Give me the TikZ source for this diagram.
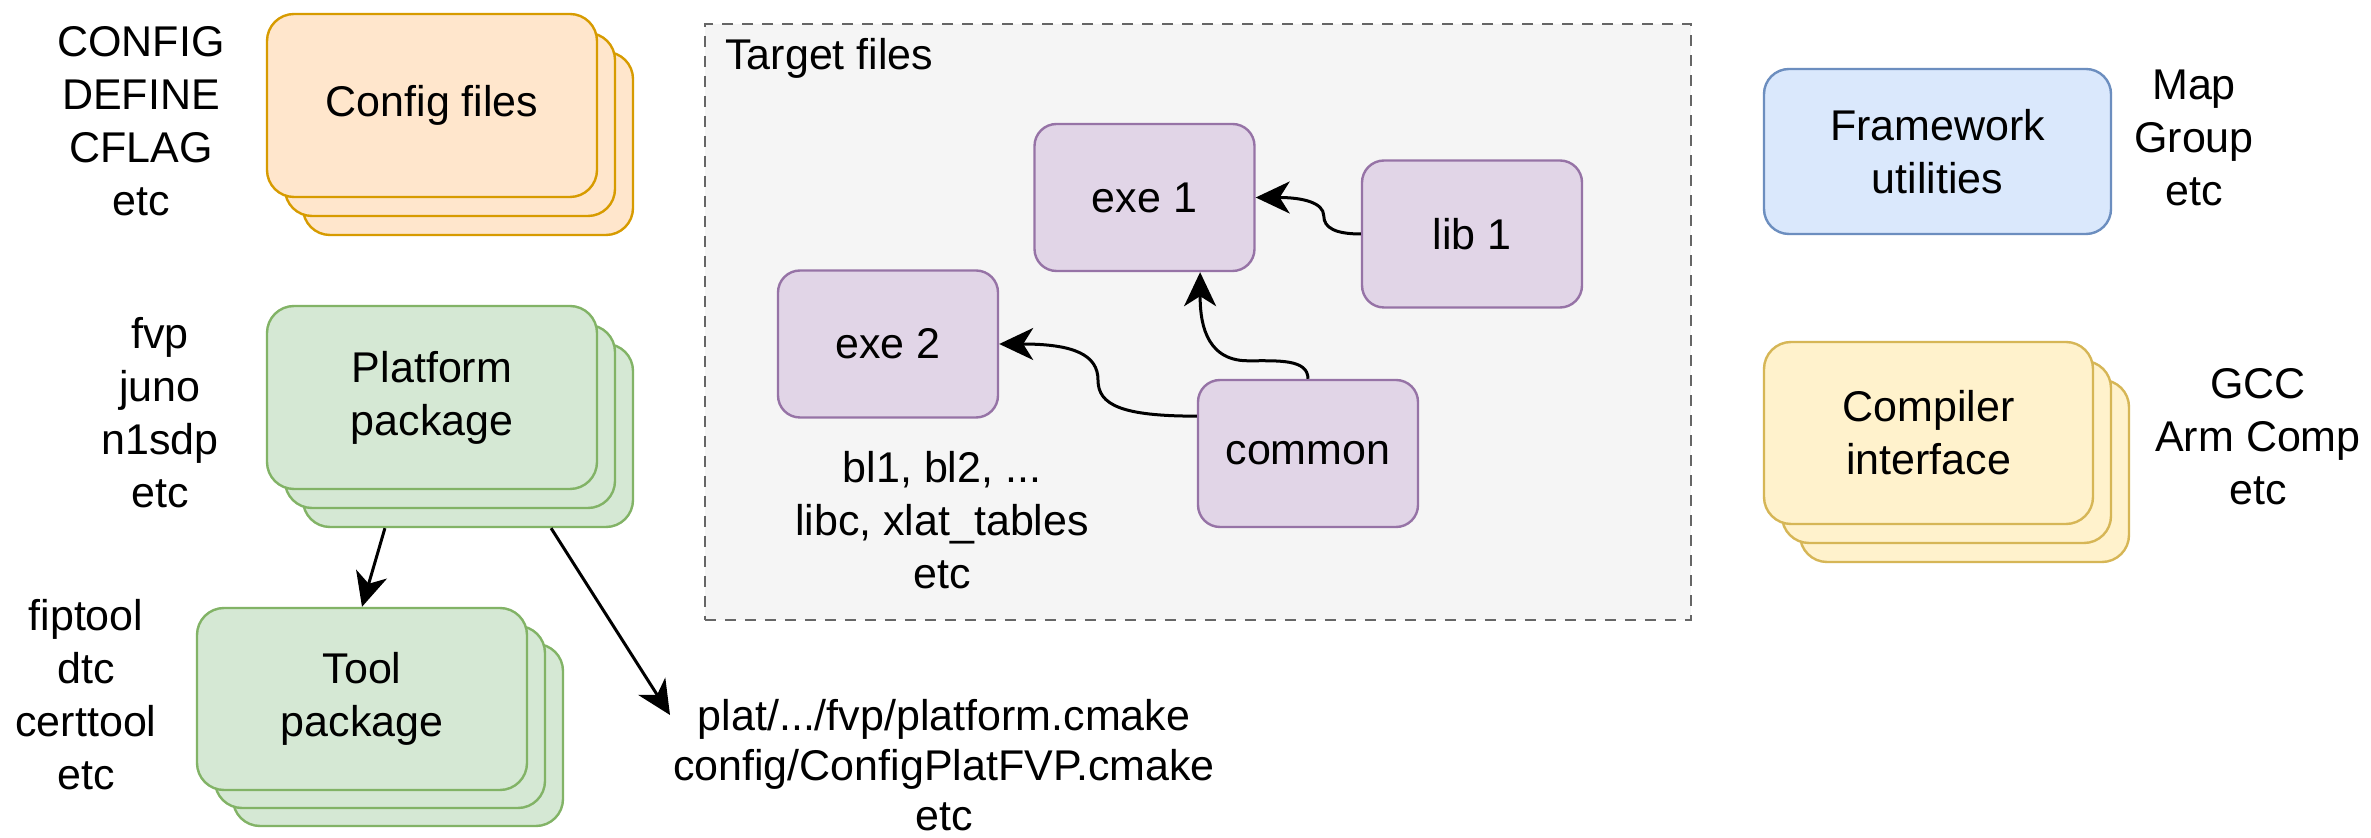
\documentclass[tikz,border=0pt]{standalone}
\usepackage{fontspec}
\setmainfont{Liberation Sans}
\usetikzlibrary{arrows.meta,calc}

\definecolor{orfill}{HTML}{FFE6CC}\definecolor{orline}{HTML}{D79B00}
\definecolor{grfill}{HTML}{D5E8D4}\definecolor{grline}{HTML}{82B366}
\definecolor{pufill}{HTML}{E1D5E7}\definecolor{puline}{HTML}{9673A6}
\definecolor{blfill}{HTML}{DAE8FC}\definecolor{blline}{HTML}{6C8EBF}
\definecolor{yefill}{HTML}{FFF2CC}\definecolor{yeline}{HTML}{D6B656}
\definecolor{grpfill}{HTML}{F5F5F5}\definecolor{grpline}{HTML}{666666}

\begin{document}
\begin{tikzpicture}[x=0.5pt,y=-0.5pt,
  every node/.style={font=\fontsize{21.5pt}{26.5pt}\selectfont, text=black},
  card/.style={draw, rectangle, rounded corners=13.5pt, line width=1.2pt,
    inner sep=0pt, minimum width=165pt, minimum height=91.5pt, align=center},
  cfgcard/.style={card, fill=orfill, draw=orline},
  platcard/.style={card, fill=grfill, draw=grline},
  compcard/.style={card, fill=yefill, draw=yeline},
  fwcard/.style={card, fill=blfill, draw=blline, minimum width=173.5pt,
    minimum height=82.5pt, rounded corners=12.5pt},
  target/.style={draw=puline, fill=pufill, rectangle, rounded corners=11pt,
    line width=1.2pt, inner sep=0pt, minimum width=110pt, minimum height=73.5pt},
  group/.style={draw=grpline, fill=grpfill, rectangle, line width=1.2pt,
    dash pattern=on 5.5pt off 4.5pt, inner sep=0pt,
    minimum width=493pt, minimum height=298pt},
  lbl/.style={align=center, inner sep=0pt},
  dep/.style={line width=1.5pt, -{Stealth[length=17pt,width=16pt,inset=5pt]}},
]
\useasboundingbox[fill=white] (0,0) rectangle (2371,838);

% configuration stack
\node[cfgcard] (cfg3) at (468,143.5) {};
\node[cfgcard] (cfg2) at (450,124.5) {};
\node[cfgcard] (cfg)  at (432,105.5) {Config files};
\node[lbl] (cfgl) at (141,121.5) {CONFIG\\DEFINE\\CFLAG\\etc};

% platform stack
\node[platcard] (plat3) at (468,435.5) {};
\node[platcard] (plat2) at (450,416.5) {};
\node[platcard] (plat)  at (432,397.5) {Platform\\package};
\node[lbl] (platl) at (160,412.5) {fvp\\juno\\n1sdp\\etc};

% tool stack
\node[platcard, minimum height=91pt] (tool3) at (398,735) {};
\node[platcard, minimum height=91pt] (tool2) at (380,717) {};
\node[platcard, minimum height=91pt] (tool)  at (362,699) {Tool\\package};
\node[lbl] (tooll) at (86,694.5) {fiptool\\dtc\\certtool\\etc};

% platform files
\node[lbl, font=\fontsize{21.5pt}{25pt}\selectfont] (pfiles) at (944,765)
  {plat/.../fvp/platform.cmake\\config/ConfigPlatFVP.cmake\\etc};
\coordinate (pfin) at (670,715);

\draw[dep] ($(plat3.south west)!0.25!(plat3.south east)$) -- (tool.north);
\draw[dep] ($(plat3.south west)!0.75!(plat3.south east)$) -- (pfin);

% target files group
\node[group] (tgt) at (1198,322) {};
\node[anchor=base west, inner sep=0pt] (tgtt) at (725,70) {Target files};

\node[target] (exe1)   at (1144.5,197.5) {exe 1};
\node[target] (exe2)   at (888,344)      {exe 2};
\node[target] (lib1)   at (1472,234)     {lib 1};
\node[target] (common) at (1308,453.5)   {common};
\node[lbl] (tgtl) at (942,520) {bl1, bl2, ...\\libc, xlat\_tables\\etc};

\coordinate (e1in) at ($(exe1.south west)!0.75!(exe1.south east)$);
\coordinate (c5out) at ($(common.north west)!0.25!(common.south west)$);

\draw[dep] (lib1.west) .. controls +(-25,0) and +(0,12) .. ($(lib1.west)+(-37,-18)$)
  .. controls +(0,-14) and +(45,0) .. (exe1.east);
\draw[dep] (common.north) .. controls +(0,-20) and +(30,0) .. ($(common.north)+(-60,-18)$)
  .. controls +(-45,0) and +(0,45) .. (e1in);
\draw[dep] (c5out) .. controls +(-75,0) and +(0,25) .. ($(c5out)!0.5!(exe2.east)$)
  .. controls +(0,-25) and +(75,0) .. (exe2.east);

% framework utilities
\node[fwcard] (fw) at (1937.5,151.5) {Framework\\utilities};
\node[lbl] (fwl) at (2194,138) {Map\\Group\\etc};

% compiler stack
\node[compcard, minimum width=164.5pt, minimum height=91pt] (comp3) at (1964.5,471) {};
\node[compcard, minimum width=164.5pt, minimum height=91pt] (comp2) at (1946.5,452) {};
\node[compcard, minimum width=164.5pt, minimum height=91pt] (comp)  at (1928.5,433) {Compiler\\interface};
\node[lbl] (compl) at (2258,437) {GCC\\Arm Comp\\etc};
\end{tikzpicture}
\end{document}
